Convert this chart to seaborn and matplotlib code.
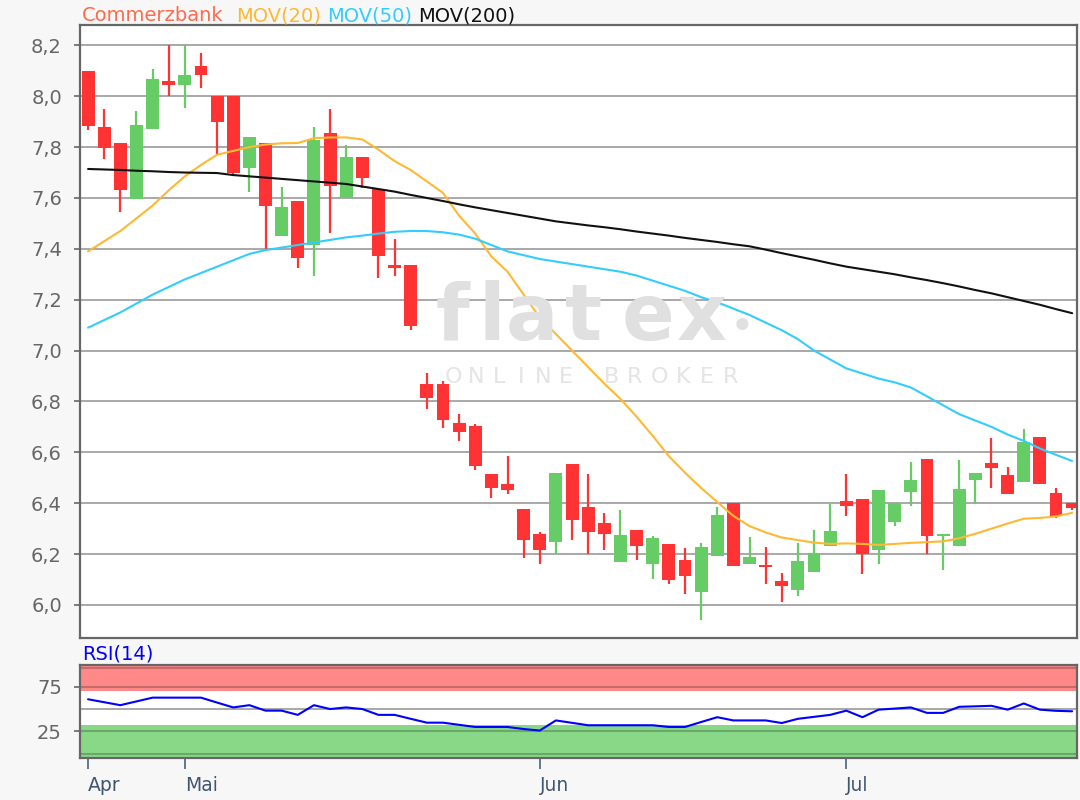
import matplotlib
matplotlib.use("Agg")
import matplotlib.pyplot as plt
import numpy as np
import pandas as pd
import seaborn as sns
from matplotlib.ticker import FuncFormatter

# daily candles
opens = [8.10, 7.879, 7.816, 7.594, 7.873, 8.06, 8.046, 8.117, 8.00, 8.00,
         7.716, 7.816, 7.45, 7.59, 7.417, 7.855, 7.598, 7.76, 7.635, 7.338,
         7.336, 6.867, 6.867, 6.716, 6.703, 6.513, 6.474, 6.378, 6.277, 6.248,
         6.553, 6.386, 6.323, 6.169, 6.293, 6.16, 6.238, 6.175, 6.051, 6.192,
         6.402, 6.162, 6.154, 6.094, 6.059, 6.129, 6.232, 6.408, 6.417, 6.216,
         6.327, 6.445, 6.575, 6.27, 6.232, 6.491, 6.559, 6.51, 6.484, 6.661,
         6.441, 6.402]
highs = [8.10, 7.95, 7.816, 7.943, 8.108, 8.20, 8.20, 8.17, 8.00, 8.00,
         7.84, 7.816, 7.643, 7.59, 7.878, 7.95, 7.807, 7.76, 7.64, 7.439,
         7.336, 6.912, 6.882, 6.749, 6.71, 6.513, 6.585, 6.378, 6.287, 6.519,
         6.553, 6.513, 6.362, 6.372, 6.293, 6.27, 6.238, 6.222, 6.245, 6.385,
         6.402, 6.268, 6.228, 6.127, 6.245, 6.293, 6.395, 6.513, 6.417, 6.45,
         6.402, 6.562, 6.575, 6.28, 6.568, 6.52, 6.655, 6.542, 6.692, 6.661,
         6.458, 6.402]
lows = [7.866, 7.755, 7.544, 7.594, 7.873, 8.00, 7.954, 8.032, 7.77, 7.69,
        7.622, 7.397, 7.45, 7.323, 7.292, 7.463, 7.598, 7.64, 7.286, 7.292,
        7.08, 6.769, 6.696, 6.644, 6.529, 6.419, 6.437, 6.186, 6.16, 6.201,
        6.254, 6.201, 6.215, 6.169, 6.176, 6.10, 6.081, 6.042, 5.94, 6.192,
        6.153, 6.162, 6.081, 6.011, 6.035, 6.129, 6.232, 6.35, 6.12, 6.16,
        6.31, 6.389, 6.201, 6.136, 6.232, 6.395, 6.458, 6.437, 6.484, 6.476,
        6.34, 6.372]
closes = [7.882, 7.796, 7.630, 7.888, 8.068, 8.046, 8.085, 8.085, 7.897, 7.70,
          7.84, 7.567, 7.565, 7.362, 7.826, 7.646, 7.761, 7.679, 7.371, 7.325,
          7.096, 6.812, 6.729, 6.679, 6.546, 6.458, 6.45, 6.255, 6.216, 6.519,
          6.334, 6.288, 6.277, 6.275, 6.232, 6.262, 6.098, 6.114, 6.229, 6.353,
          6.153, 6.19, 6.148, 6.074, 6.173, 6.205, 6.29, 6.389, 6.201, 6.45,
          6.402, 6.49, 6.27, 6.277, 6.457, 6.52, 6.537, 6.437, 6.64, 6.476,
          6.35, 6.382]

ma20 = [7.39, 7.43, 7.47, 7.52, 7.57, 7.63, 7.685, 7.73, 7.77, 7.785,
        7.80, 7.81, 7.815, 7.816, 7.835, 7.838, 7.838, 7.83, 7.79, 7.745,
        7.71, 7.665, 7.62, 7.53, 7.46, 7.37, 7.31, 7.22, 7.13, 7.065,
        7.0, 6.935, 6.87, 6.81, 6.74, 6.665, 6.585, 6.52, 6.46, 6.405,
        6.35, 6.31, 6.285, 6.265, 6.255, 6.245, 6.24, 6.242, 6.24, 6.236,
        6.24, 6.244, 6.247, 6.25, 6.262, 6.28, 6.30, 6.32, 6.339, 6.342,
        6.348, 6.362]
ma50 = [7.09, 7.12, 7.15, 7.185, 7.22, 7.25, 7.28, 7.305, 7.33, 7.355,
        7.38, 7.395, 7.405, 7.415, 7.425, 7.435, 7.445, 7.452, 7.46, 7.467,
        7.47, 7.47, 7.465, 7.456, 7.44, 7.415, 7.39, 7.375, 7.36, 7.35,
        7.34, 7.33, 7.32, 7.31, 7.295, 7.275, 7.255, 7.235, 7.21, 7.19,
        7.165, 7.14, 7.11, 7.08, 7.045, 7.0, 6.965, 6.93, 6.91, 6.89,
        6.875, 6.855, 6.82, 6.785, 6.75, 6.725, 6.70, 6.67, 6.645, 6.615,
        6.59, 6.566]
ma200 = [7.714, 7.712, 7.71, 7.707, 7.705, 7.702, 7.70, 7.699, 7.698, 7.69,
         7.685, 7.68, 7.675, 7.67, 7.665, 7.66, 7.655, 7.645, 7.635, 7.625,
         7.612, 7.60, 7.588, 7.575, 7.563, 7.552, 7.541, 7.53, 7.519, 7.508,
         7.50, 7.492, 7.485, 7.477, 7.468, 7.46, 7.452, 7.443, 7.435, 7.427,
         7.418, 7.41, 7.397, 7.383, 7.37, 7.357, 7.343, 7.33, 7.32, 7.31,
         7.30, 7.288, 7.277, 7.265, 7.252, 7.238, 7.225, 7.21, 7.195, 7.18,
         7.163, 7.147]

rsi = [60.9, 57.6, 54.3, 58.5, 62.7, 62.7, 62.7, 62.7, 57.2, 51.8,
       54.3, 48.2, 48.2, 43.5, 54.3, 50.0, 51.8, 50.0, 43.5, 43.5,
       39.1, 34.8, 34.8, 32.4, 30.0, 30.0, 30.0, 27.7, 26.0, 37.3,
       34.6, 31.9, 31.9, 31.9, 31.9, 31.9, 30.0, 30.0, 35.5, 40.9,
       37.3, 37.3, 37.3, 34.4, 39.1, 41.3, 43.5, 48.2, 40.9, 49.3,
       50.5, 51.8, 45.7, 45.7, 52.5, 53.0, 53.6, 49.3, 56.2, 49.3,
       48.0, 47.5]

month_labels = ["Apr", "Mai", "Jun", "Jul"]
month_days = [0, 6, 28, 47]

title_words = ["Commerzbank", "MOV(20)", "MOV(50)", "MOV(200)"]
title_colors = ["#ff6a4d", "#ffb833", "#33ccff", "#111111"]

W, H = 1080, 800
sns.set_style("white")
plt.rcParams["font.family"] = ["DejaVu Sans"]

fig = plt.figure(figsize=(W / 100, H / 100), dpi=100, facecolor="#f7f7f7")
ax = fig.add_axes([80 / W, 1 - 638 / H, 997 / W, 613 / H])
ax_rsi = fig.add_axes([80 / W, 1 - 758 / H, 997 / W, 93 / H])

days = np.arange(len(closes))
df = pd.DataFrame({"day": days, "open": opens, "high": highs,
                   "low": lows, "close": closes})
df["color"] = np.where(df["close"] > df["open"], "#66cc66", "#ff3333")

# watermark
wm = "#e0e0e0"
for ch, px in zip("flatex", [452, 492, 532, 584, 648, 702]):
    fig.text(px / W, 1 - 340 / H, ch, color=wm, fontsize=56, fontweight="bold",
             ha="center", va="baseline", zorder=0)
fig.text(742 / W, 1 - 340 / H, "\u2022", color=wm, fontsize=30, ha="center",
         va="baseline", zorder=0)
for i, ch in enumerate("ONLINE"):
    fig.text((454 + 22.4 * i) / W, 1 - 377 / H, ch, color="#e4e4e4",
             fontsize=16, ha="center", va="center", zorder=0)
for i, ch in enumerate("BROKER"):
    fig.text((611 + 24 * i) / W, 1 - 377 / H, ch, color="#e4e4e4",
             fontsize=16, ha="center", va="center", zorder=0)
ax.patch.set_alpha(0)
fig.patches.append(plt.Rectangle((80 / W, 1 - 638 / H), 997 / W, 613 / H,
                                 transform=fig.transFigure, facecolor="white",
                                 edgecolor="none", zorder=-1))

# candles
ax.vlines(df["day"], df["low"], df["high"], colors=df["color"], lw=1.6, zorder=3)
body_lo = df[["open", "close"]].min(axis=1)
body_h = (df["open"] - df["close"]).abs().clip(lower=0.008)
ax.bar(df["day"], body_h, bottom=body_lo, width=0.8, color=df["color"],
       edgecolor="none", zorder=3)

ma = pd.DataFrame({"day": days, "MOV(20)": ma20, "MOV(50)": ma50,
                   "MOV(200)": ma200}).melt("day", var_name="line", value_name="value")
sns.lineplot(data=ma, x="day", y="value", hue="line", ax=ax, legend=False,
             palette={"MOV(20)": "#ffb833", "MOV(50)": "#33ccff", "MOV(200)": "#111111"},
             linewidth=1.5, zorder=4)

ax.set_xlim(-0.5, 61.3)
ax.set_ylim(5.87, 8.28)
ax.set_yticks(np.arange(6.0, 8.21, 0.2))
ax.yaxis.set_major_formatter(FuncFormatter(lambda v, p: f"{v:.1f}".replace(".", ",")))
ax.set_xticks([])
ax.set_xlabel("")
ax.set_ylabel("")
ax.grid(axis="y", color="#a8a8a8", lw=1.4, zorder=1)
ax.set_axisbelow(True)
ax.tick_params(axis="y", length=4, width=1.2, color="#666666", pad=9,
               labelsize=14, labelcolor="#666666", left=True)

# RSI panel
ax_rsi.axhspan(70.6, 110, color="#ff8888", lw=0, zorder=0)
ax_rsi.axhspan(-10, 32.4, color="#88d888", lw=0, zorder=0)
for y in [95.2, 75, 25, 0.2]:
    ax_rsi.axhline(y, color="black", alpha=0.22, lw=1.5, zorder=1)
ax_rsi.axhline(50, color="#a8a8a8", lw=1.4, zorder=1)
sns.lineplot(x=days[:len(rsi)], y=rsi, ax=ax_rsi, color="#0000ff", linewidth=1.5,
             zorder=3)
ax_rsi.set_xlim(-0.5, 61.3)
ax_rsi.set_ylim(-4.6, 99.1)
ax_rsi.set_yticks([25, 75])
ax_rsi.set_xticks(month_days)
ax_rsi.set_xticklabels(month_labels)
for lab in ax_rsi.get_xticklabels():
    lab.set_ha("left")
ax_rsi.tick_params(axis="y", length=4, width=1.2, color="#666666", pad=9,
                   labelsize=14, labelcolor="#666666", left=True)
ax_rsi.tick_params(axis="x", length=8, width=1.2, color="#4a6078", pad=5,
                   labelsize=13.5, labelcolor="#3f5670", bottom=True)
ax_rsi.set_xlabel("")
ax_rsi.set_ylabel("")

for a in (ax, ax_rsi):
    for s in a.spines.values():
        s.set_color("#666666")
        s.set_linewidth(1.6)
        s.set_visible(True)
        s.set_zorder(5)

# title row
fig.canvas.draw()
renderer = fig.canvas.get_renderer()
x = 82
gaps = [12, 7, 6, 0]
for word, col, gap in zip(title_words, title_colors, gaps):
    t = fig.text(x / W, 1 - 21 / H, word, color=col, fontsize=14, va="baseline")
    bb = t.get_window_extent(renderer=renderer)
    x = bb.x1 + gap

fig.text(82 / W, 1 - 660 / H, "RSI(14)", color="#0000ff", fontsize=14,
         va="baseline")

fig.savefig("out.png", dpi=100, facecolor=fig.get_facecolor())
